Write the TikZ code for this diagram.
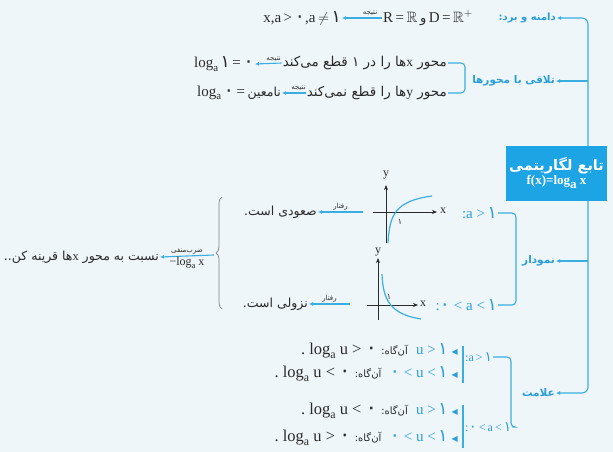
\documentclass[tikz,border=0pt]{standalone}
\usepackage{fontspec}
\usepackage{amssymb}
\usepackage{graphicx}
\setmainfont{Liberation Serif}
\newfontfamily\fa[Script=Arabic]{DejaVu Sans}
\TeXXeTstate=1
\usetikzlibrary{arrows.meta,decorations.pathreplacing}
\definecolor{bg}{HTML}{EEF6FA}
\definecolor{ln}{HTML}{3AAEE0}
\definecolor{bx}{HTML}{1CA4E4}
\definecolor{lb}{HTML}{2B9ED8}
\definecolor{tx}{HTML}{2A2A2A}
\newcommand\RL[1]{\beginR#1\endR}
\newcommand\pzero{\scalebox{1.3}{\fa ۰}}
\newcommand\pone{\scalebox{1.15}{\fa ۱}}
\newcommand\loga{log\raisebox{-0.5ex}{\scalebox{0.72}{a}}}
\newcommand\tri{{\color{lb}\fa\fontsize{8}{9}\selectfont ◀}}
\newcommand\agah{{\fa\fontsize{10}{11}\selectfont\RL{آن‌گاه:}}}
\tikzset{
  every node/.style={inner sep=1pt, text=tx},
  lbl/.style={font=\fa\bfseries\fontsize{10.5}{12}\selectfont, text=lb},
  fat/.style={font=\fa\fontsize{12.5}{14}\selectfont},
  fatb/.style={font=\fa\fontsize{13.5}{15}\selectfont},
  mth/.style={font=\fontsize{15}{18}\selectfont},
  rowm/.style={font=\fontsize{16.5}{18}\selectfont},
  bmth/.style={font=\fontsize{15}{18}\selectfont, text=lb},
  smth/.style={font=\fontsize{12}{14}\selectfont},
  tinyfa/.style={font=\fa\fontsize{7}{8}\selectfont, text=tx, inner sep=1.5pt},
  lnst/.style={draw=ln, line width=1.1pt},
  arr/.style={lnst, -{Latex[length=4pt,width=4pt]}},
  axis/.style={draw=tx, line width=0.8pt, -{Stealth[length=5pt,width=4pt]}},
  crv/.style={draw=ln, line width=1.2pt},
  box/.style={fill=bx, minimum width=101pt, minimum height=55pt, align=center, text=white, inner sep=0pt}
}
\begin{document}
\begin{tikzpicture}[x=1pt,y=-1pt]
\fill[bg] (0,0) rectangle (613,452);
\useasboundingbox (0,0) rectangle (613,452);

% ---- main labels
\node[lbl, font=\fa\bfseries\fontsize{10}{12}\selectfont, anchor=east] (dom) at (557,18) {\RL{دامنه و برد:}};
\node[lbl, anchor=east] (int) at (556,81) {\RL{تلاقی با محورها}};
\node[lbl, anchor=east] (grf) at (556,261) {\RL{نمودار}};
\node[lbl, anchor=east] (sgn) at (556,393) {\RL{علامت}};
\coordinate (j1) at (588,81);
\coordinate (j2) at (588,261);
\draw[lnst, rounded corners=6pt, {Latex[length=4pt,width=4pt]}-{Latex[length=4pt,width=4pt]}]
  (dom.east) -- (588,18) -- (588,393) -- (sgn.east);
\draw[arr] (j1) -- (int.east);
\draw[arr] (j2) -- (grf.east);

\node[box] (main) at (556.5,173) {{\fa\bfseries\fontsize{14.5}{16}\selectfont\RL{تابع لگاریتمی}}\\[1pt]
  {\bfseries\fontsize{13}{14}\selectfont f(x)=log\raisebox{-0.7ex}{a} x}};

% ---- row 1: domain/range
\node[mth, anchor=west] (DR) at (382,18) {R\,=\,$\mathbb{R}$\,{\fa\fontsize{13}{14}\selectfont و}\,D\,=\,$\mathbb{R}^{+}$};
\node[mth, anchor=east] (xa) at (342,18) {x,a\,>\,\pzero,a\,$\neq$\,\pone};
\draw[arr] (DR.west) -- (xa.east) node[tinyfa, above, pos=0.3] {\RL{نتیجه}};

% ---- intersections
\node[fatb, anchor=east] (ax1) at (448,63) {\RL{محور {\rmfamily x}ها را در ۱ قطع می‌کند}};
\node[mth, anchor=east] (lg1) at (255,64) {\loga\,\pone\,=\,\pzero};
\draw[arr] (ax1.west) -- (lg1.east) node[tinyfa, above, pos=0.3] {\RL{نتیجه}};
\node[fatb, anchor=east] (ax2) at (448,93) {\RL{محور {\rmfamily y}ها را قطع نمی‌کند}};
\node[mth, anchor=east] (lg2) at (282,93) {\loga\,\pzero\,=\,{\fa\fontsize{12.5}{14}\selectfont نامعین}};
\draw[arr] (ax2.west) -- (lg2.east) node[tinyfa, above, pos=0.3] {\RL{نتیجه}};
\coordinate (bk1) at (465,78);
\draw[lnst, rounded corners=4pt] (ax1.east) -| (bk1) |- (ax2.east);

% ---- graphs
\node[bmth, anchor=east] (g1) at (498,213) {:a\ >\,\pone};
\node[bmth, anchor=east] (g2) at (498,305) {:\pzero\ <\ a\ <\,\pone};
\coordinate (bk2) at (516,260);
\draw[lnst, rounded corners=4pt] (g1.east) -| (bk2) |- (g2.east);

% graph 1 (a>1)
\draw[axis] (386,243) -- (386,185);
\draw[axis] (373,212) -- (437,212);
\node[smth] (y1) at (386,175) {y};
\node[smth] (x1) at (443,211) {x};
\node[font=\fa\fontsize{8}{9}\selectfont] (one1) at (400,222) {۱};
\draw[crv] (388,243) .. controls (389.5,215) and (395,201) .. (432,196);

% graph 2 (0<a<1)
\draw[axis] (378,320) -- (378,258);
\draw[axis] (367,305) -- (418,305);
\node[smth] (y2) at (378,252) {y};
\node[smth] (x2) at (423,304) {x};
\node[font=\fa\fontsize{8}{9}\selectfont] (one2) at (389,297) {۱};
\draw[crv] (382,274) .. controls (383,300) and (390,314) .. (421,319);

% behaviour
\node[fat, anchor=east] (inc) at (318,212) {\RL{صعودی است.}};
\coordinate (c1) at (363,212);
\draw[arr] (c1) -- (inc.east) node[tinyfa, above, pos=0.5] {\RL{رفتار}};
\node[fat, anchor=east] (dec) at (309,304) {\RL{نزولی است.}};
\coordinate (c2) at (350,304);
\draw[arr] (c2) -- (dec.east) node[tinyfa, above, pos=0.5] {\RL{رفتار}};

% brace and reflection
\draw[draw=gray, line width=0.7pt, decorate, decoration={brace, amplitude=6pt}] (222,309) -- (222,197);
\coordinate (bt) at (214,255);
\node[fat, anchor=east] (neg) at (160,257) {\RL{نسبت به محور {\rmfamily x}ها قرینه کن..}};
\draw[arr] (bt) -- (neg.east)
  node[tinyfa, above, pos=0.5] {\RL{ضرب‌منفی}}
  node[smth, below, pos=0.5] {−\loga\ x};

% ---- sign
\draw[lnst] (463,346) -- (463,383);
\draw[lnst] (463,405) -- (463,448);
\node[bmth, font=\fontsize{12}{14}\selectfont, anchor=west] (s1) at (464,357) {:a\,>\,\pone};
\node[bmth, font=\fontsize{12}{14}\selectfont, anchor=west] (s2) at (464,427) {:\pzero\,<\,a\,<\,\pone};
\coordinate (bk3) at (511,395);
\draw[lnst, rounded corners=4pt] (s1.east) -| (bk3) |- (s2.east);

\node[rowm, anchor=east] (r1) at (459,351) {.\ \loga\ u\ >\ \pzero\ \agah\ \ {\fontsize{15}{18}\selectfont\textcolor{lb}{u\ >\,\pone}}\ \tri};
\node[rowm, anchor=east] (r2) at (459,374) {.\ \loga\ u\ <\ \pzero\ \agah\ \ {\fontsize{15}{18}\selectfont\textcolor{lb}{\pzero\ <\ u\ <\,\pone}}\ \tri};
\node[rowm, anchor=east] (r3) at (459,411) {.\ \loga\ u\ <\ \pzero\ \agah\ \ {\fontsize{15}{18}\selectfont\textcolor{lb}{u\ >\,\pone}}\ \tri};
\node[rowm, anchor=east] (r4) at (459,438) {.\ \loga\ u\ >\ \pzero\ \agah\ \ {\fontsize{15}{18}\selectfont\textcolor{lb}{\pzero\ <\ u\ <\,\pone}}\ \tri};
\end{tikzpicture}
\end{document}
